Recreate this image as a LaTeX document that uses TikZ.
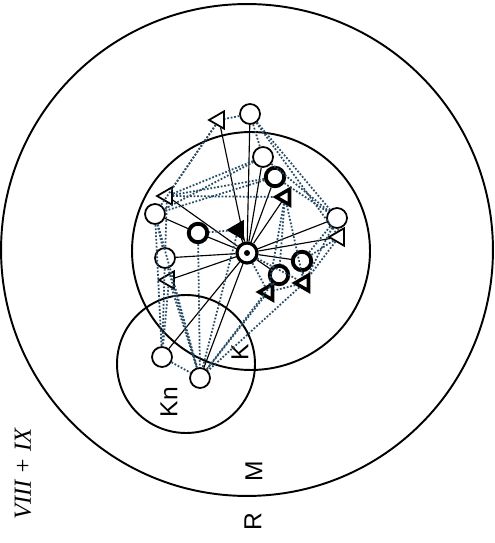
\documentclass[tikz,border=0pt]{standalone}
\usepackage{fontspec}
\setsansfont{Liberation Sans}
\newfontfamily\gradefont{Liberation Serif}
\usetikzlibrary{shapes.geometric}
\definecolor{dotcol}{RGB}{40,75,100}
\tikzset{
  ring/.style={line width=1.1pt},
  boy/.style={draw, circle, line width=1pt, minimum size=4mm, inner sep=0pt, fill=white},
  boybold/.style={boy, line width=2.2pt, minimum size=3.7mm},
  girl/.style={draw, regular polygon, regular polygon sides=3, shape border rotate=90, line width=1pt, minimum size=4mm, inner sep=0pt, fill=white},
  girlbold/.style={girl, line width=2pt, minimum size=3.6mm},
  girlfill/.style={girl, fill=black},
  leader/.style={draw, circle, line width=1.8pt, minimum size=4mm, inner sep=0pt, fill=white,
    path picture={\fill[black] (path picture bounding box.center) circle[radius=0.6mm];}},
  tie/.style={line width=0.65pt},
  pick/.style={densely dotted, line width=1pt, draw=dotcol},
  lab/.style={font=\sffamily\fontsize{14}{16}\selectfont, rotate=90, inner sep=0pt},
  grade/.style={font=\gradefont\itshape\fontsize{14}{16}\selectfont, rotate=90, inner sep=0pt}
}
\begin{document}
\begin{tikzpicture}[x=0.02cm,y=-0.02cm]
\useasboundingbox (0,0) rectangle (494,543);
\draw[ring] (247,250) circle[radius=4.92cm];
\draw[ring] (251,251) circle[radius=2.38cm];
\draw[ring] (186,364) circle[radius=1.38cm];

\node[leader] (zen) at (247,253) {};
\node[boy] (m1) at (250,114) {};
\node[girl] (w1) at (219,120) {};
\node[boy] (m2) at (263,157) {};
\node[boybold] (m3) at (275,177) {};
\node[girlbold] (w2) at (285,197) {};
\node[girl] (w3) at (167,196) {};
\node[boy] (m4) at (155,214) {};
\node[boybold] (m5) at (198,233) {};
\node[girlfill] (w4) at (238,230) {};
\node[boy] (m6) at (337,218) {};
\node[girl] (w5) at (339,237) {};
\node[boy] (m7) at (165,258) {};
\node[girl] (w6) at (169,280) {};
\node[boybold] (m8) at (302,261) {};
\node[boybold] (m9) at (279,275) {};
\node[girlbold] (w7) at (304,283) {};
\node[girlbold] (w8) at (268,292) {};
\node[boy] (k1) at (162,357) {};
\node[boy] (k2) at (200,378) {};

\node[lab] (rlab) at (253,522) {R};
\node[lab] (mlab) at (254,471) {M};
\node[lab] (knlab) at (169,402) {Kn};
\node[lab] (klab) at (240,352) {K};
\node[grade] (class) at (23,474) {VIII + IX};

\foreach \n in {w1,m1,m2,m3,w2,w3,m5,w4,m6,w5,m7,w6,m8,m9,k1,k2}
  \draw[tie] (zen) -- (\n);
\draw[tie] (m4) -- (m5);

\foreach \a/\b in {m1/w1, w1/w3, w1/m4, m1/m2, m1/m6, m1/w5, m2/m6, m2/w3, m2/m4,
    m3/w3, m3/m4, w2/w3, m3/m6, w2/m9, w2/w7, w2/w8, m6/w5, m6/m8, m6/w7, w5/m8,
    w5/w7, m8/w7, m9/w8, w7/w8, w7/k2, w8/k2, m9/k2, zen/w7, zen/w8,
    w4/m5, w4/k2, m5/k2, m4/m7, m4/k1, m4/k2, m7/k1, w6/k1, w6/k2, m7/k2, w3/m7, k1/k2}
  \draw[pick] (\a) -- (\b);
\end{tikzpicture}
\end{document}
